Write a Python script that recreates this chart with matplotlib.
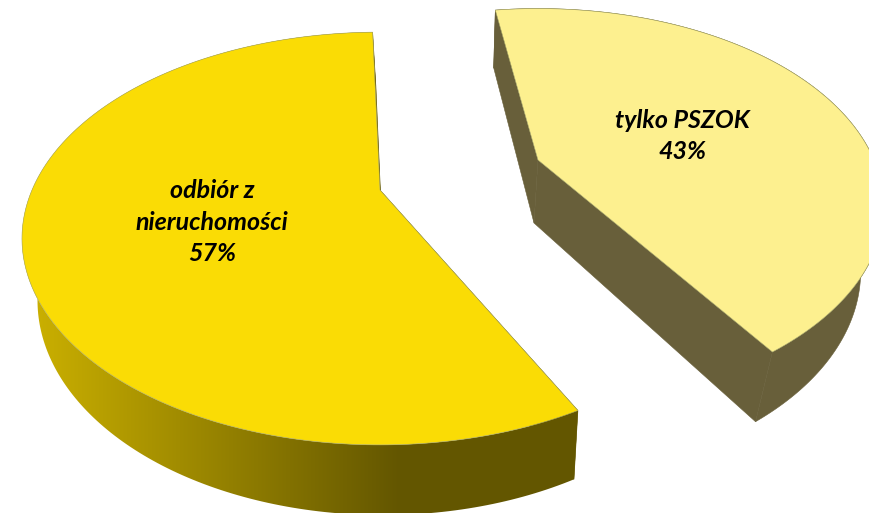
import numpy as np
import matplotlib
matplotlib.use('Agg')
import matplotlib.pyplot as plt
from matplotlib.patches import Polygon

labels = ['odbiór z\nnieruchomości', 'tylko PSZOK']
shares = [57, 43]

# pie geometry, in pixels
apex_x = [380, 538]
apex_y = [190, 160]
rad_x = [348, 336]
rad_y = [195, 187]
start_deg = [91.5, 99]
tilt = 0.235
depth = [60, 63]
depth_slope = [-0.04, -0.035]
shift_x = [3, -4]
shift_slope = [-0.035, -0.055]
top_colors = ['#fadc05', '#fdf08f']
wall_colors = ['#635600', '#685f3a']
label_x = [212, 682]
label_y = [222, 136]

# shading of the front wall of the big slice, left to right
ramp_x = [25, 200, 400, 570]
ramp_r = [205, 155, 99, 99]
ramp_g = [178, 135, 86, 86]

fig = plt.figure(figsize=(8.69, 5.13), dpi=100)
ax = fig.add_axes([0, 0, 1, 1])


def top_points(i, deg):
    a = np.radians(deg)
    w = 1 + tilt * np.sin(a)
    return rad_x[i] * np.cos(a) / w, rad_y[i] * np.sin(a) / w


def to_pixels(i, x, y):
    return apex_x[i] + x, apex_y[i] - y


def down_pixels(i, x, y):
    px = apex_x[i] + x + shift_x[i] + shift_slope[i] * x
    py = apex_y[i] - y + depth[i] + depth_slope[i] * y
    return px, py


# slices run anticlockwise from their start angle
spans = [s / sum(shares) * 360 for s in shares]
arcs = [
    np.linspace(start_deg[0], start_deg[0] + spans[0], 240),
    np.linspace(start_deg[1] - spans[1], start_deg[1], 240),
]

for i in range(2):
    x, y = top_points(i, arcs[i])
    tx, ty = to_pixels(i, x, y)
    bx, by = down_pixels(i, x, y)
    zero = np.zeros(1)
    ax0, ay0 = to_pixels(i, zero, zero)
    dx0, dy0 = down_pixels(i, zero, zero)

    # outer wall
    wall = np.column_stack([np.r_[tx, bx[::-1]], np.r_[ty, by[::-1]]])
    if i == 0:
        xs = np.arange(0, 869)
        rgb = np.ones((1, len(xs), 3))
        rgb[0, :, 0] = np.interp(xs, ramp_x, ramp_r) / 255
        rgb[0, :, 1] = np.interp(xs, ramp_x, ramp_g) / 255
        rgb[0, :, 2] = 0
        im = ax.imshow(rgb, extent=(0, 869, 513, 0), aspect='auto', zorder=2)
        patch = Polygon(wall, closed=True, transform=ax.transData, fc='none', ec='none')
        ax.add_patch(patch)
        im.set_clip_path(patch)
    else:
        ax.add_patch(Polygon(wall, closed=True, fc=wall_colors[i], ec=wall_colors[i], lw=0.4, zorder=2))

    # the two cut walls
    for k in (0, -1):
        quad = [(ax0[0], ay0[0]), (tx[k], ty[k]), (bx[k], by[k]), (dx0[0], dy0[0])]
        ax.add_patch(Polygon(quad, closed=True, fc=wall_colors[i], ec=wall_colors[i], lw=0.4, zorder=3))

    outline = np.column_stack([np.r_[ax0, tx], np.r_[ay0, ty]])
    ax.add_patch(Polygon(outline, closed=True, fc=top_colors[i], ec='#a8a868', lw=0.4, zorder=4))

    ax.text(label_x[i], label_y[i], f'{labels[i]}\n{shares[i]}%', ha='center', va='center',
            family='Lato', weight='bold', style='italic', fontsize=18, color='black',
            linespacing=1.45, zorder=5)

ax.set_xlim(0, 869)
ax.set_ylim(513, 0)
ax.axis('off')

plt.savefig('out.png', dpi=100)
